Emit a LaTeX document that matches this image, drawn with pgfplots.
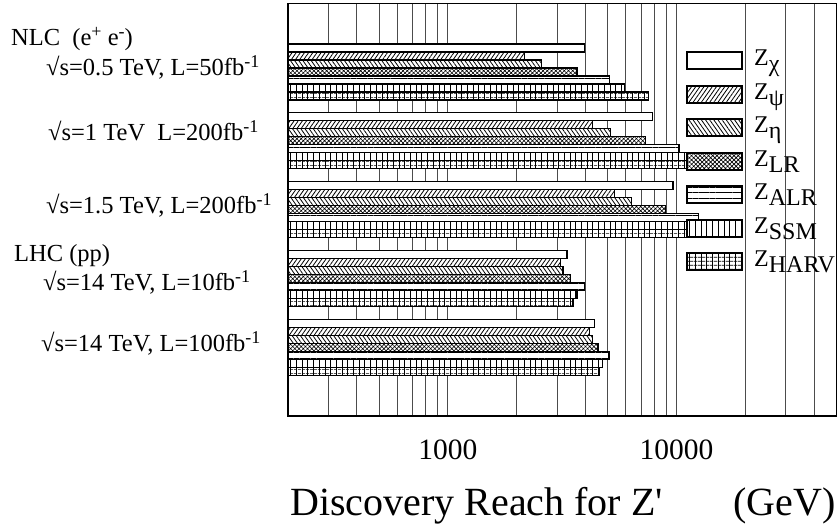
\documentclass[border=0pt]{standalone}
\usepackage{fontspec}
\setmainfont{Liberation Serif}
\newfontfamily\plainrm{Liberation Serif}
\usepackage{pgfplots}
\pgfplotsset{compat=1.18}
\usetikzlibrary{patterns.meta}

% image pixels -> picture points (axis lower left corner at pixel 288,416)
\tikzset{
  px/.style={x=1pt, y=-1pt, shift={(-288pt,416pt)}},
  zb/.style={draw=black, line width=1.2pt},
  zchi/.style={zb, fill=white},
  zpsi/.style={zb, preaction={fill=white}, pattern={Lines[angle=55,distance=3.4pt,line width=0.8pt]}},
  zeta/.style={zb, preaction={fill=white}, pattern={Lines[angle=-55,distance=3.4pt,line width=0.8pt]}},
  zlr/.style={zb, preaction={fill=white}, pattern={Hatch[angle=45,distance=3pt,line width=0.6pt]}},
  zalr/.style={zb, preaction={fill=white}, pattern={Lines[angle=0,distance=5.7pt,line width=0.8pt]}},
  zssm/.style={zb, preaction={fill=white}, pattern={Lines[angle=90,distance=5.7pt,line width=0.8pt]}},
  zharv/.style={zb, preaction={fill=white}, preaction={pattern={Lines[angle=90,distance=5.7pt,line width=0.8pt]}},
    pattern={Lines[angle=0,distance=4pt,line width=0.8pt]}},
  lab/.style={anchor=base west, inner sep=0pt, font=\fontsize{24.5}{24.5}\selectfont},
  leg/.style={anchor=base west, inner sep=0pt, font=\fontsize{24}{24}\selectfont},
}
\newcommand{\sub}[1]{\raisebox{-6pt}{#1}}
\newcommand{\supr}[1]{\raisebox{8.5pt}{\fontsize{18}{18}\selectfont #1}}

\begin{document}
\begin{tikzpicture}
\path[px, use as bounding box] (0,0) rectangle (837,529);

\begin{axis}[
  at={(0,0)}, anchor=south west,
  scale only axis, width=548.4pt, height=412.7pt,
  xmode=log, xmin=200, xmax=50000,
  ymin=0, ymax=6,
  xbar, bar width=0.1163, log origin=infty,
  xtick={1000,10000}, xticklabels={1000,10000},
  minor xtick={300,400,500,600,700,800,900,2000,3000,4000,5000,6000,7000,8000,9000,20000,30000,40000},
  ytick=\empty,
  major tick length=0pt, minor tick length=0pt,
  xmajorgrids, xminorgrids,
  major grid style={black!70, line width=0.9pt},
  minor grid style={black!70, line width=0.9pt},
  axis line style={black, line width=1.2pt},
  xticklabel style={font=\fontsize{29.5}{29.5}\selectfont, anchor=base, yshift=-44pt},
]
% groups from top: NLC 0.5, NLC 1, NLC 1.5, LHC 10, LHC 100
\addplot[zchi,  bar shift=0.3489]  coordinates {(3960,5) (7830,4) (9640,3) (3320,2) (4385,1)};
\addplot[zpsi,  bar shift=0.2326]  coordinates {(2155,5) (4285,4) (5360,3) (3105,2) (4170,1)};
\addplot[zeta,  bar shift=0.1163]  coordinates {(2566,5) (5130,4) (6340,3) (3190,2) (4285,1)};
\addplot[zlr,   bar shift=0]       coordinates {(3670,5) (7300,4) (8950,3) (3433,2) (4530,1)};
\addplot[zalr,  bar shift=-0.1163] coordinates {(5100,5) (10240,4) (12480,3) (3965,2) (5060,1)};
\addplot[zssm,  bar shift=-0.2326] coordinates {(5930,5) (12000,4) (12000,3) (3670,2) (4740,1)};
\addplot[zharv, bar shift=-0.3489] coordinates {(7550,5) (12000,4) (12000,3) (3526,2) (4610,1)};
\end{axis}

\begin{scope}[px]
% legend
\draw[zchi]  (687,52)  rectangle (742,69);  \node[leg] at (754,66)  {Z\sub{χ}};
\draw[zpsi]  (687,86)  rectangle (742,103); \node[leg] at (754,100) {Z\sub{ψ}};
\draw[zeta]  (687,119) rectangle (742,136); \node[leg] at (754,133) {Z\sub{η}};
\draw[zlr]   (687,153) rectangle (742,170); \node[leg] at (754,167) {Z\sub{LR}};
\draw[zalr]  (687,186) rectangle (742,203); \node[leg] at (754,200) {Z\sub{ALR}};
\draw[zssm]  (687,220) rectangle (742,237); \node[leg] at (754,234) {Z\sub{SSM}};
\draw[zharv] (687,253) rectangle (742,270); \node[leg] at (754,267) {Z\sub{HARV}};
% group labels
\node[lab] at (11,46)  {NLC\ \ (e\supr{+} e\supr{-})};
\node[lab] at (46,76)  {√s=0.5 TeV, L=50fb\supr{-1}};
\node[lab] at (48,141) {√s=1 TeV\ \ L=200fb\supr{-1}};
\node[lab] at (46,214) {√s=1.5 TeV, L=200fb\supr{-1}};
\node[lab] at (14,262) {LHC (pp)};
\node[lab] at (43,291) {√s=14 TeV, L=10fb\supr{-1}};
\node[lab] at (41,352) {√s=14 TeV, L=100fb\supr{-1}};
% axis title
\node[anchor=base west, inner sep=0pt, font=\fontsize{40}{40}\selectfont] at (290,516) {Discovery Reach for Z{\plainrm '}};
\node[anchor=base east, inner sep=0pt, font=\fontsize{40}{40}\selectfont] at (836,516) {(GeV)};
\end{scope}
\end{tikzpicture}
\end{document}
